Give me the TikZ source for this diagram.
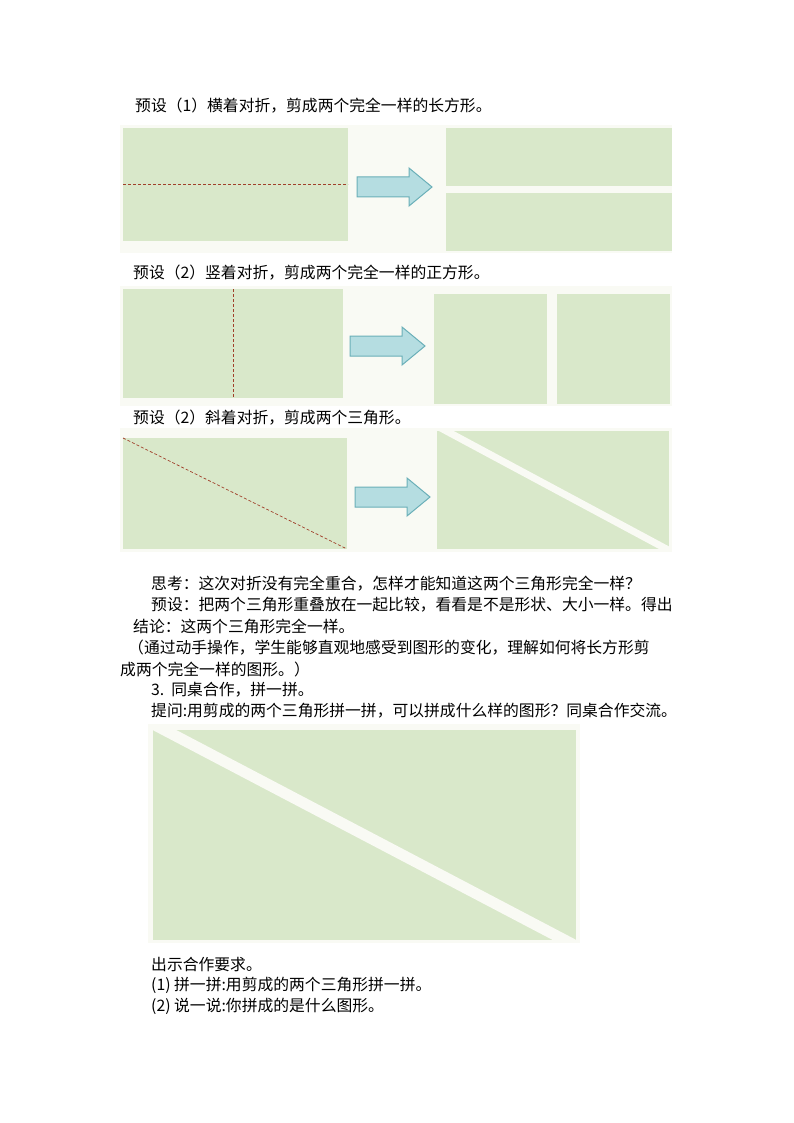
\documentclass[tikz,border=0pt]{standalone}
\usepackage{fontspec}
\setmainfont{Noto Sans CJK SC}
\definecolor{gr}{HTML}{D9E8CA}
\definecolor{bgp}{HTML}{F9FAF4}
\definecolor{arf}{HTML}{B5DDE1}
\definecolor{ard}{HTML}{6AAFB8}
\definecolor{fold}{HTML}{A0402A}
\begin{document}
\begin{tikzpicture}[x=1pt,y=-1pt,
 txt/.style={anchor=west,inner sep=0pt,font=\fontsize{15.8}{17}\selectfont},
 panel/.style={fill=bgp},
 paper/.style={fill=gr},
 foldline/.style={draw=fold,densely dashed,line width=0.7pt},
 cut/.style={draw=bgp,line width=8pt}]
\useasboundingbox[fill=white] (0,0) rectangle (794,1123);
\newcommand{\bigarrow}[2]{\draw[fill=arf,draw=ard,line width=1pt] (#1,#2-10)--(#1+52,#2-10)--(#1+52,#2-19)--(#1+75,#2)--(#1+52,#2+19)--(#1+52,#2+10)--(#1,#2+10)--cycle;}
\node[txt] (t1) at (135,106) {预设（1）横着对折，剪成两个完全一样的长方形。};
\fill[panel] (120,125) rectangle (672,253);
\fill[paper] (123,128) rectangle (348,241);
\draw[foldline] (123,184) -- (348,184);
\bigarrow{357}{187}
\fill[paper] (446,128) rectangle (672,186);
\fill[paper] (446,193) rectangle (672,251);
\node[txt] (t2) at (133,273) {预设（2）竖着对折，剪成两个完全一样的正方形。};
\fill[panel] (120,286) rectangle (672,406);
\fill[paper] (123,289) rectangle (343,398);
\draw[foldline] (233,289) -- (233,398);
\bigarrow{350}{346}
\fill[paper] (434,294) rectangle (547,404);
\fill[paper] (557,294) rectangle (670,404);
\node[txt] (t3) at (133,418) {预设（2）斜着对折，剪成两个三角形。};
\fill[panel] (120,428) rectangle (672,552);
\fill[paper] (123,438) rectangle (347,549);
\draw[foldline] (123,438) -- (347,549);
\bigarrow{355}{497}
\fill[paper] (437,431) rectangle (669,549);
\begin{scope}
\clip (437,431) rectangle (669,549);
\draw[cut,line width=7pt] (437,426) -- (672,552);
\end{scope}
\node[txt] (t4) at (151,584) {思考：这次对折没有完全重合，怎样才能知道这两个三角形完全一样？};
\node[txt] (t5) at (151,605) {预设：把两个三角形重叠放在一起比较，看看是不是形状、大小一样。得出};
\node[txt] (t6) at (133,626) {结论：这两个三角形完全一样。};
\node[txt] (t7) at (128,648) {（通过动手操作，学生能够直观地感受到图形的变化，理解如何将长方形剪};
\node[txt] (t8) at (120,669) {成两个完全一样的图形。）};
\node[txt] (t9) at (151,690) {3.\ \ 同桌合作，拼一拼。};
\node[txt] (t10) at (151,711) {提问:用剪成的两个三角形拼一拼，可以拼成什么样的图形？同桌合作交流。};
\fill[panel] (148,724) rectangle (580,943);
\fill[paper] (153,730) rectangle (576,940);
\begin{scope}
\clip (153,730) rectangle (576,940);
\draw[cut,line width=11pt] (153,724) -- (576,946);
\end{scope}
\node[txt] (t11) at (151,964) {出示合作要求。};
\node[txt] (t12) at (151,985) {(1) 拼一拼:用剪成的两个三角形拼一拼。};
\node[txt] (t13) at (151,1006) {(2) 说一说:你拼成的是什么图形。};
\end{tikzpicture}
\end{document}
